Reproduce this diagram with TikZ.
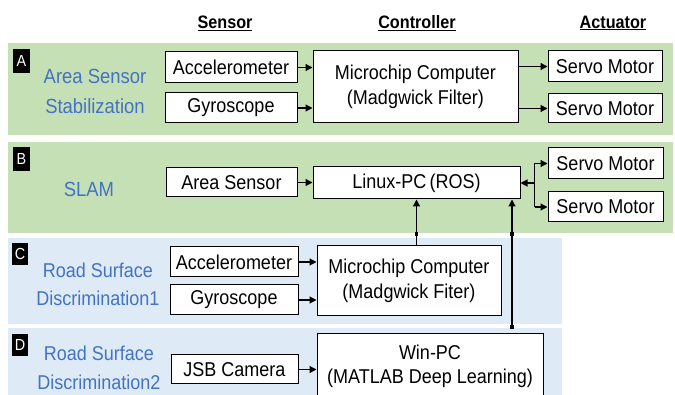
\documentclass[tikz,border=0pt]{standalone}
\usepackage{fontspec}
\setmainfont{Liberation Sans}[FakeStretch=0.9]
\usetikzlibrary{arrows.meta}
\definecolor{bandgreen}{RGB}{197,224,180}
\definecolor{bandblue}{RGB}{222,235,247}
\definecolor{labelblue}{RGB}{68,114,196}

\begin{document}
\begin{tikzpicture}[x=1pt,y=-1pt,
  box/.style={draw=black, line width=1pt, fill=white, inner sep=0pt, align=center,
    font=\fontsize{20}{25}\selectfont},
  arr/.style={line width=1.2pt, -{Triangle[length=7pt,width=7pt]}},
  wire/.style={line width=1.2pt},
  badge/.style={fill=black, text=white, inner sep=0pt, font=\fontsize{16}{16}\selectfont},
  lbl/.style={text=labelblue, align=center, inner sep=0pt},
  head/.style={font=\bfseries\fontsize{18}{20}\selectfont, inner sep=0pt}]

\path[use as bounding box, clip] (0,0) rectangle (675,395);

% background bands
\fill[bandgreen] (8,43) rectangle (673,135);
\fill[bandgreen] (8,142) rectangle (673,233);
\fill[bandblue] (8,238) rectangle (562,324);
\fill[bandblue] (8,328) rectangle (562,400);

% column headings
\node[head] (hS) at (225,23) {\underline{Sensor}};
\node[head] (hC) at (417,23) {\underline{Controller}};
\node[head] (hA) at (613,23) {\underline{Actuator}};

% row badges
\node[badge, minimum width=17pt, minimum height=24pt] (bA) at (21.5,61) {A};
\node[badge, minimum width=17pt, minimum height=24pt] (bB) at (21.5,159) {B};
\node[badge, minimum width=16pt, minimum height=22pt] (bC) at (20,254) {C};
\node[badge, minimum width=16pt, minimum height=22pt] (bD) at (20,345) {D};

% row titles
\node[lbl, font=\fontsize{20.5}{30}\selectfont] (tA) at (95,91) {Area Sensor\\Stabilization};
\node[lbl, font=\fontsize{20.5}{30}\selectfont] (tB) at (89,189) {SLAM};
\node[lbl, font=\fontsize{20}{28}\selectfont] (tC) at (98,284) {Road Surface\\Discrimination1};
\node[lbl, font=\fontsize{20}{29}\selectfont] (tD) at (99,367.5) {Road Surface\\Discrimination2};

% row A
\node[box, minimum width=132pt, minimum height=31pt] (aA) at (231,67.5) {Accelerometer};
\node[box, minimum width=132pt, minimum height=30pt] (gA) at (231,108) {Gyroscope};
\node[box, minimum width=205pt, minimum height=72pt] (mA) at (415.5,87) {Microchip Computer\\(Madgwick Filter)};
\node[box, minimum width=114pt, minimum height=31pt] (s1A) at (605,66.5) {Servo Motor};
\node[box, minimum width=114pt, minimum height=29pt] (s2A) at (605,108.5) {Servo Motor};
\draw[arr] (aA.east) -- (aA.east -| mA.west);
\draw[arr] (gA.east) -- (gA.east -| mA.west);
\draw[arr] (s1A.west -| mA.east) -- (s1A.west);
\draw[arr] (s2A.west -| mA.east) -- (s2A.west);

% row B
\node[box, minimum width=131pt, minimum height=29pt] (asB) at (231.5,182.5) {Area Sensor};
\node[box, minimum width=207pt, minimum height=32pt] (lB) at (416.5,183) {Linux-PC\,(ROS)};
\node[box, minimum width=115pt, minimum height=31pt] (s1B) at (605.5,163.5) {Servo Motor};
\node[box, minimum width=115pt, minimum height=30pt] (s2B) at (605.5,207) {Servo Motor};
\draw[arr] (asB.east) -- (asB.east -| lB.west);
\coordinate (j) at ([xshift=14pt]lB.east);
\draw[wire] (j |- s1B.west) -- (j |- s2B.west);
\draw[arr] (j) -- (lB.east);
\draw[arr] (j |- s1B.west) -- (s1B.west);
\draw[arr] (j |- s2B.west) -- (s2B.west);

% row C
\node[box, minimum width=128pt, minimum height=30pt] (aC) at (234,262) {Accelerometer};
\node[box, minimum width=128pt, minimum height=30pt] (gC) at (234,300) {Gyroscope};
\node[box, minimum width=184pt, minimum height=70pt] (mC) at (409,281) {Microchip Computer\\(Madgwick Fiter)};
\draw[arr] (aC.east) -- (aC.east -| mC.west);
\draw[arr] (gC.east) -- (gC.east -| mC.west);

% row D
\node[box, minimum width=127pt, minimum height=29pt] (uD) at (234.5,369.5) {JSB Camera};
\node[box, minimum width=226pt, minimum height=64pt, font=\fontsize{20}{24}\selectfont] (wD) at (430,366) {Win-PC\\(MATLAB Deep Learning)};
\draw[arr] (uD.east) -- (uD.east -| wD.west);

% links up to the Linux-PC
\draw[arr] (mC.north -| lB.south) -- (lB.south);
\coordinate (t2) at ([xshift=82pt,yshift=7pt]wD.north);
\draw[arr] (t2) -- (t2 |- lB.south);

% joint marks on the links
\fill[shift={(416.5,234)}] (-1.6,-1.6) rectangle (1.6,1.6);
\fill[shift={(512,234)}] (-1.6,-1.6) rectangle (1.6,1.6);
\fill[shift={(512,327)}] (-1.6,-1.6) rectangle (1.6,1.6);
\end{tikzpicture}
\end{document}
